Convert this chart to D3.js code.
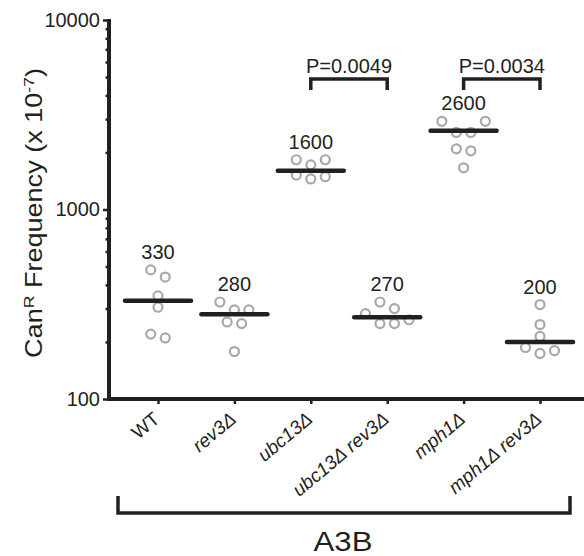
<!DOCTYPE html>
<html>
<head>
<meta charset="utf-8">
<script src="https://cdn.jsdelivr.net/npm/d3@7"></script>
<style>
  body { margin: 0; background: #fff; }
  text { font-family: Arial, "Liberation Sans", sans-serif; fill: #231f20; }
</style>
</head>
<body>
<div id="chart"></div>
<script>
// strains on the x axis
var categories = ["WT", "rev3Δ", "ubc13Δ", "ubc13Δ rev3Δ", "mph1Δ", "mph1Δ rev3Δ"];

// individual CanR frequencies (x 10^-7)
var wt = [480, 440, 350, 305, 220, 210];
var rev3 = [325, 295, 295, 255, 250, 178];
var ubc13 = [1830, 1830, 1720, 1520, 1490, 1450];
var ubc13rev3 = [325, 300, 282, 262, 250, 250];
var mph1 = [2920, 2920, 2550, 2550, 2090, 2040, 1660];
var mph1rev3 = [315, 247, 214, 187, 180, 174];
var series = [wt, rev3, ubc13, ubc13rev3, mph1, mph1rev3];

// medians printed above each group
var medians = [330, 280, 1600, 270, 2600, 200];

// significance brackets
var compFrom = ["ubc13Δ", "mph1Δ"];
var compTo = ["ubc13Δ rev3Δ", "mph1Δ rev3Δ"];
var compP = ["P=0.0049", "P=0.0034"];

var yMajor = [100, 1000, 10000];
var yMinor = [200, 300, 400, 500, 600, 700, 800, 900, 2000, 3000, 4000, 5000, 6000, 7000, 8000, 9000];
var groupLabel = "A3B";

var W = 584, H = 556;
var ink = "#231f20", dotCol = "#a7a9ac";

var svg = d3.select("#chart").append("svg")
  .attr("width", W)
  .attr("height", H);

var x = d3.scalePoint().domain(categories).range([158, 540]);
var y = d3.scaleLog().domain([100, 10000]).range([399, 20]);
var axisX0 = 109;

// y axis: major ticks with labels, minor ticks without
var yAx = svg.append("g").attr("transform", "translate(" + axisX0 + ",0)")
  .call(d3.axisLeft(y).tickValues(yMajor).tickSize(6).tickPadding(3).tickFormat(d3.format("d")));
yAx.select(".domain").remove();
yAx.selectAll(".tick line").attr("stroke", ink).attr("stroke-width", 2.5);
yAx.selectAll(".tick text").style("font-size", "20px").attr("fill", ink)
  .style("font-family", "Arial, 'Liberation Sans', sans-serif");

var yMin = svg.append("g").attr("transform", "translate(" + axisX0 + ",0)")
  .call(d3.axisLeft(y).tickValues(yMinor).tickSize(3.5).tickFormat(""));
yMin.select(".domain").remove();
yMin.selectAll(".tick line").attr("stroke", ink).attr("stroke-width", 2.5);

// x axis ticks
var xAx = svg.append("g").attr("transform", "translate(0," + y(100) + ")")
  .call(d3.axisBottom(x).tickSize(5).tickFormat(""));
xAx.select(".domain").remove();
xAx.selectAll(".tick line").attr("stroke", ink).attr("stroke-width", 2.5);

// axis lines
svg.append("path")
  .attr("d", "M" + axisX0 + "," + (y(10000) - 1) + "V" + y(100) + "H" + W)
  .attr("fill", "none")
  .attr("stroke", ink)
  .attr("stroke-width", 4);

// rotated category labels
svg.append("g").selectAll("text")
  .data(categories)
  .enter().append("text")
  .attr("transform", function (d) { return "translate(" + (x(d) + 3) + "," + (y(100) + 22) + ") rotate(-40)"; })
  .attr("text-anchor", "end")
  .style("font-size", "19px")
  .style("font-style", function (d) { return d === "WT" ? "normal" : "italic"; })
  .text(function (d) { return d; });

// dots: bin by pixel rows, then centre each row
var spacing = 14.5, binH = 16;
var dots = [];
series.forEach(function (vals, gi) {
  var bins = d3.groups(vals.slice().sort(d3.descending), function (v) {
    return Math.floor((y(v) - y(10000)) / binH - 0.25);
  });
  bins.forEach(function (b) {
    var n = b[1].length;
    // highest value goes outside, alternating left / right
    var slots = d3.range(n).map(function (i) { return (i - (n - 1) / 2) * spacing; });
    var order = [];
    var lo = 0, hi = n - 1;
    while (lo <= hi) { order.push(lo++); if (lo <= hi) order.push(hi--); }
    b[1].forEach(function (v, k) {
      dots.push({ cat: categories[gi], v: v, dx: slots[order[k]] });
    });
  });
});

svg.append("g").selectAll("circle")
  .data(dots)
  .enter().append("circle")
  .attr("cx", function (d) { return x(d.cat) + d.dx; })
  .attr("cy", function (d) { return y(d.v); })
  .attr("r", 4.5)
  .attr("fill", "none")
  .attr("stroke", dotCol)
  .attr("stroke-width", 2.2);

// median bars
svg.append("g").selectAll("line")
  .data(medians)
  .enter().append("line")
  .attr("x1", function (d, i) { return x(categories[i]) - 33; })
  .attr("x2", function (d, i) { return x(categories[i]) + 33; })
  .attr("y1", function (d) { return y(d); })
  .attr("y2", function (d) { return y(d); })
  .attr("stroke", ink)
  .attr("stroke-width", 4.5)
  .attr("stroke-linecap", "round");

// median labels above the highest dot
svg.append("g").selectAll("text")
  .data(medians)
  .enter().append("text")
  .attr("x", function (d, i) { return x(categories[i]); })
  .attr("y", function (d, i) { return y(d3.max(series[i])) - 11; })
  .attr("text-anchor", "middle")
  .style("font-size", "20px")
  .text(function (d) { return d; });

// P value brackets
var brY = 79;
compP.forEach(function (p, i) {
  var x1 = x(compFrom[i]), x2 = x(compTo[i]);
  svg.append("path")
    .attr("d", "M" + x1 + "," + (brY + 11) + "V" + brY + "H" + x2 + "V" + (brY + 11))
    .attr("fill", "none")
    .attr("stroke", ink)
    .attr("stroke-width", 3.5);
  svg.append("text")
    .attr("x", (x1 + x2) / 2)
    .attr("y", brY - 6)
    .attr("text-anchor", "middle")
    .style("font-size", "20px")
    .text(p);
});

// group bracket under the labels
var gx1 = x(categories[0]) - 40, gx2 = x(categories[categories.length - 1]) + 30;
svg.append("path")
  .attr("d", "M" + gx1 + ",496V513H" + gx2 + "V496")
  .attr("fill", "none")
  .attr("stroke", ink)
  .attr("stroke-width", 3.5);
svg.append("text")
  .attr("x", (gx1 + gx2) / 2 - 1)
  .attr("y", 551)
  .attr("text-anchor", "middle")
  .attr("textLength", 59)
  .attr("lengthAdjust", "spacingAndGlyphs")
  .style("font-size", "27px")
  .text(groupLabel);

// y axis title with superscripts
var yt = svg.append("text")
  .attr("text-anchor", "middle")
  .style("font-size", "23px");
yt.append("tspan").text("Can");
yt.append("tspan").attr("dy", -8).style("font-size", "15px").text("R");
yt.append("tspan").attr("dy", 8).text(" Frequency (x 10");
yt.append("tspan").attr("dy", -8).style("font-size", "15px").text("-7");
yt.append("tspan").attr("dy", 8).text(")");
var tl = yt.node().getComputedTextLength();
yt.attr("transform", "translate(42,213) rotate(-90) scale(" + (290 / tl) + ",1)");
</script>
</body>
</html>
